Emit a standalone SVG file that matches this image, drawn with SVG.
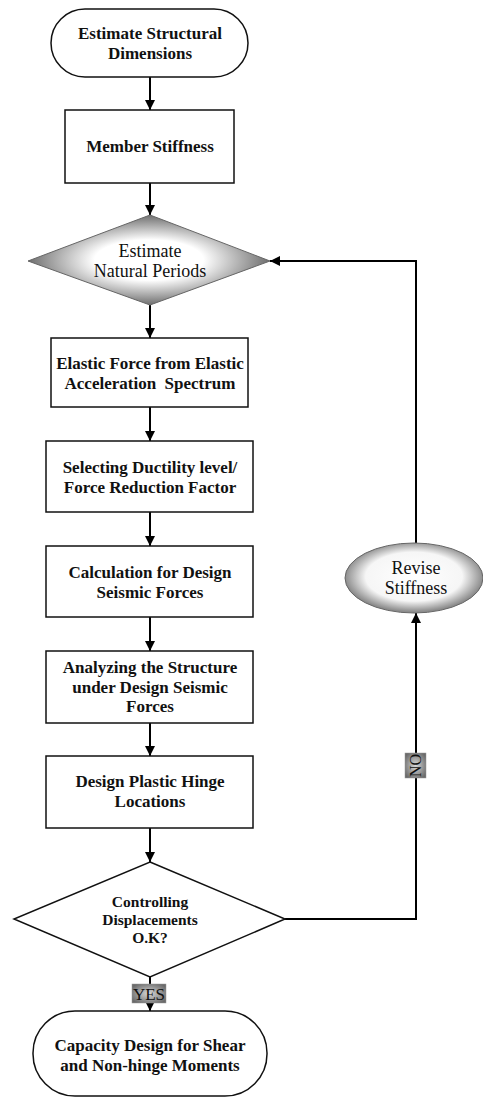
<svg xmlns="http://www.w3.org/2000/svg" width="483" height="1098" viewBox="0 0 483 1098">
  <style>
    .shape { stroke: #111; stroke-width: 1.5; fill: #fff; }
    .wire { fill: none; stroke: #000; stroke-width: 2; }
    .bold { font-family: "Liberation Serif", "Times New Roman", serif; font-weight: bold; font-size: 17px; fill: #111; text-anchor: middle; }
    .plain { font-family: "Liberation Serif", "Times New Roman", serif; font-size: 18px; fill: #111; text-anchor: middle; }
  </style>
  <defs>
    <marker id="arrow" markerUnits="userSpaceOnUse" markerWidth="10" markerHeight="10" refX="10" refY="5" orient="auto">
      <path d="M0,0 L10,5 L0,10 z" fill="#000"/>
    </marker>
    <radialGradient id="diamondFill" cx="0.5" cy="0.5" r="0.5">
      <stop offset="0" stop-color="#ffffff"/>
      <stop offset="0.45" stop-color="#ffffff"/>
      <stop offset="1" stop-color="#6e6e6e"/>
    </radialGradient>
    <radialGradient id="ellipseFill" cx="0.5" cy="0.48" r="0.5">
      <stop offset="0" stop-color="#ffffff"/>
      <stop offset="0.7" stop-color="#f6f6f6"/>
      <stop offset="1" stop-color="#8c8c8c"/>
    </radialGradient>
    <radialGradient id="tagFill" cx="0.5" cy="0.5" r="0.6">
      <stop offset="0" stop-color="#d8d8d8"/>
      <stop offset="1" stop-color="#6a6a6a"/>
    </radialGradient>
  </defs>

  <!-- connectors -->
  <g id="connectors">
    <path class="wire" d="M150,77 V110" marker-end="url(#arrow)"/>
    <path class="wire" d="M150,183 V215" marker-end="url(#arrow)"/>
    <path class="wire" d="M150,305 V338" marker-end="url(#arrow)"/>
    <path class="wire" d="M150,407 V441" marker-end="url(#arrow)"/>
    <path class="wire" d="M150,512 V546" marker-end="url(#arrow)"/>
    <path class="wire" d="M150,617 V651" marker-end="url(#arrow)"/>
    <path class="wire" d="M150,723 V756" marker-end="url(#arrow)"/>
    <path class="wire" d="M150,828 V862" marker-end="url(#arrow)"/>
    <path class="wire" d="M150,977 V1011" marker-end="url(#arrow)"/>
    <path class="wire" d="M285,919 H416 V613" marker-end="url(#arrow)"/>
    <path class="wire" d="M416,543 V261 H270" marker-end="url(#arrow)"/>
    <!-- branch tags -->
    <g id="tag-yes">
      <rect x="132" y="984" width="34" height="19" fill="url(#tagFill)" stroke="#999" stroke-width="0.5"/>
      <text x="149" y="1000" class="plain" style="font-size:17px">YES</text>
    </g>
    <g id="tag-no">
      <rect x="405" y="753" width="21" height="25" fill="url(#tagFill)" stroke="#999" stroke-width="0.5"/>
      <text x="0" y="0" class="plain" style="font-size:16px" transform="translate(421,765.5) rotate(-90)">NO</text>
    </g>
  </g>

  <g id="start">
    <rect class="shape" x="51" y="9" width="197" height="68" rx="34" ry="34"/>
    <text class="bold" x="150" y="39">Estimate Structural</text>
    <text class="bold" x="150" y="59">Dimensions</text>
  </g>

  <g id="member-stiffness">
    <rect class="shape" x="65" y="110" width="169" height="73"/>
    <text class="bold" x="150" y="152">Member Stiffness</text>
  </g>

  <g id="natural-periods">
    <polygon points="150,215 270,261 150,305 28,261" fill="url(#diamondFill)" stroke="#666" stroke-width="1"/>
    <text class="plain" x="150" y="257">Estimate</text>
    <text class="plain" x="150" y="277">Natural Periods</text>
  </g>

  <g id="elastic-force">
    <rect class="shape" x="51" y="338" width="197" height="69"/>
    <text class="bold" x="150" y="369">Elastic Force from Elastic</text>
    <text class="bold" x="150" y="389" xml:space="preserve">Acceleration  Spectrum</text>
  </g>

  <g id="ductility">
    <rect class="shape" x="46" y="441" width="207" height="71"/>
    <text class="bold" x="150" y="473">Selecting Ductility level/</text>
    <text class="bold" x="150" y="493">Force Reduction Factor</text>
  </g>

  <g id="design-forces">
    <rect class="shape" x="46" y="546" width="207" height="71"/>
    <text class="bold" x="150" y="578">Calculation for Design</text>
    <text class="bold" x="150" y="598">Seismic Forces</text>
  </g>

  <g id="analysis">
    <rect class="shape" x="46" y="651" width="207" height="72"/>
    <text class="bold" x="150" y="673">Analyzing the Structure</text>
    <text class="bold" x="150" y="693">under Design Seismic</text>
    <text class="bold" x="150" y="712">Forces</text>
  </g>

  <g id="plastic-hinges">
    <rect class="shape" x="46" y="756" width="207" height="72"/>
    <text class="bold" x="150" y="787">Design Plastic Hinge</text>
    <text class="bold" x="150" y="807">Locations</text>
  </g>

  <g id="displacement-check">
    <polygon class="shape" points="150,862 285,919 150,977 14,919"/>
    <text class="bold" x="150" y="907" style="font-size:15.5px">Controlling</text>
    <text class="bold" x="150" y="925" style="font-size:15.5px">Displacements</text>
    <text class="bold" x="150" y="943" style="font-size:15.5px">O.K?</text>
  </g>

  <g id="revise-stiffness">
    <ellipse cx="414" cy="578" rx="69" ry="35" fill="url(#ellipseFill)" stroke="#666" stroke-width="1"/>
    <text class="plain" x="416" y="574">Revise</text>
    <text class="plain" x="416" y="594">Stiffness</text>
  </g>

  <g id="capacity-design">
    <rect class="shape" x="33" y="1011" width="234" height="85" rx="42" ry="42"/>
    <text class="bold" x="150" y="1051">Capacity Design for Shear</text>
    <text class="bold" x="150" y="1071">and Non-hinge Moments</text>
  </g>
</svg>
